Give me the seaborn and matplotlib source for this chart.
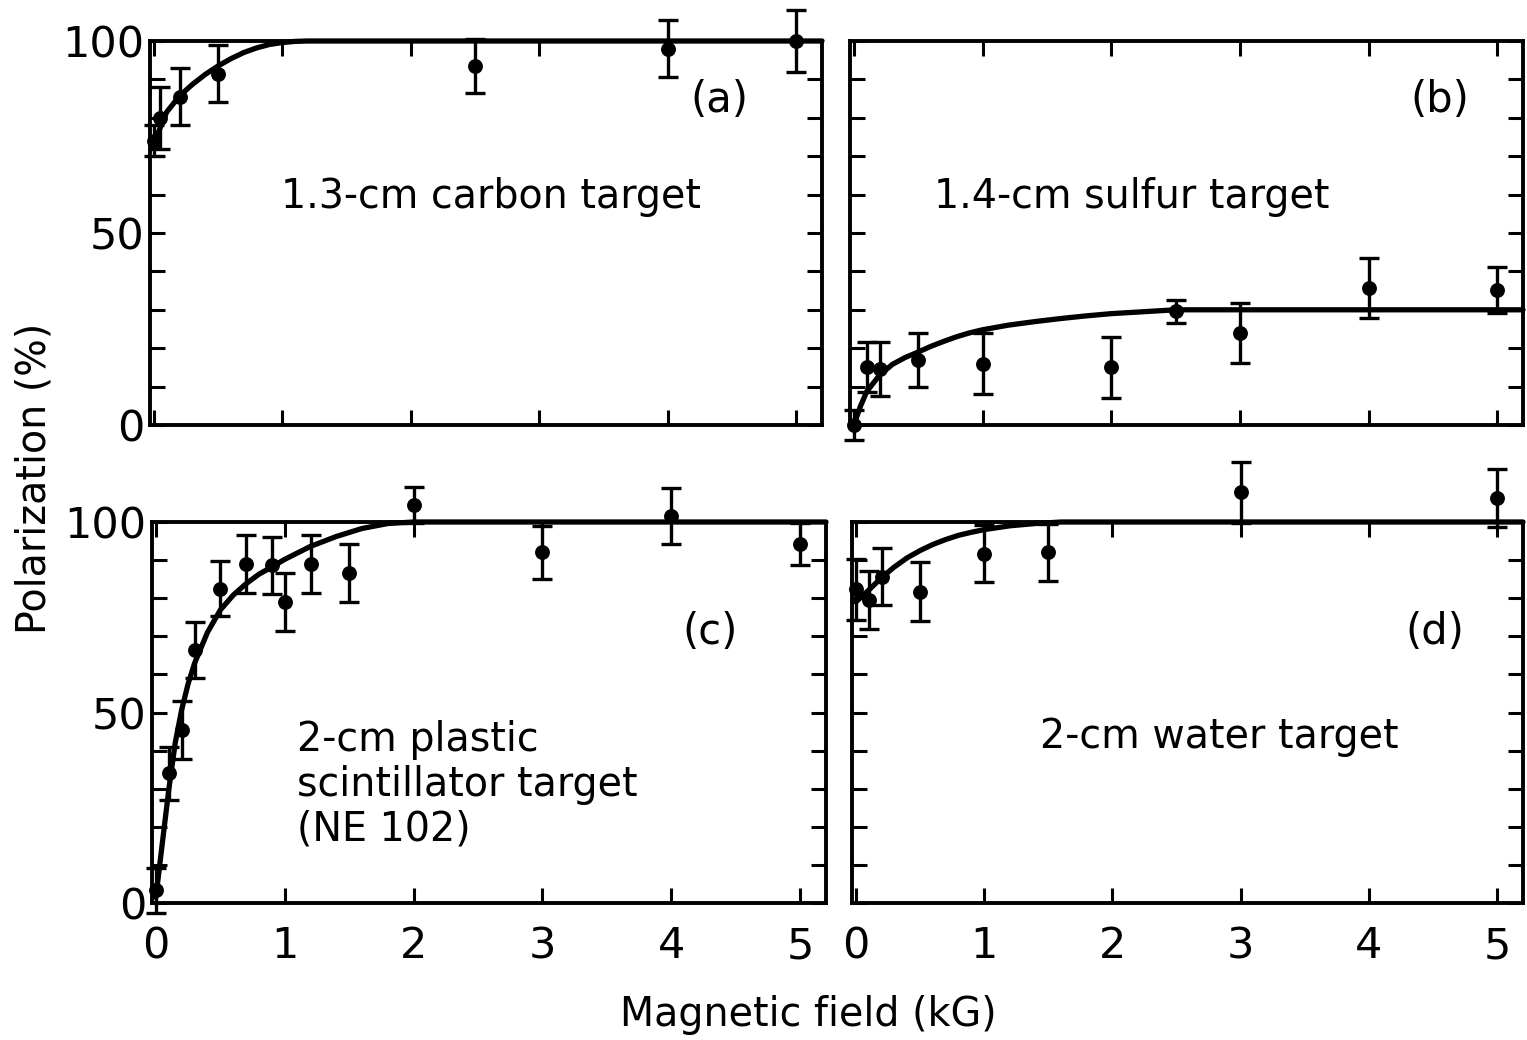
import numpy as np
import pandas as pd
import matplotlib
matplotlib.use("Agg")
import matplotlib.pyplot as plt
import seaborn as sns
from matplotlib.ticker import MultipleLocator

# ---------------- data ----------------
# (a) 1.3-cm carbon target
a_x = [0.0, 0.05, 0.2, 0.5, 2.5, 4.0, 5.0]
a_y = [74, 80, 85.5, 91.5, 93.5, 98, 100]
a_err = [4, 8, 7.5, 7.5, 7, 7.5, 8]
a_curve_x = [0.0, 0.05, 0.1, 0.2, 0.3, 0.4, 0.5, 0.6, 0.7, 0.8, 0.9, 1.0, 1.1, 1.2, 5.2]
a_curve_y = [73, 77.5, 81.5, 85.7, 88.7, 91.3, 93.5, 95.4, 97, 98.2, 99.1, 99.6, 99.9, 100, 100]

# (b) 1.4-cm sulfur target
b_x = [0.0, 0.1, 0.2, 0.5, 1.0, 2.0, 2.5, 3.0, 4.0, 5.0]
b_y = [0, 15.2, 14.5, 17, 16, 15, 29.6, 24, 35.7, 35.2]
b_err = [4, 6.5, 7, 7, 8, 8, 3, 7.8, 7.8, 6]
b_curve_x = [0.0, 0.05, 0.1, 0.2, 0.3, 0.4, 0.5, 0.6, 0.7, 0.8, 0.9, 1.0, 1.2, 1.4,
             1.6, 1.8, 2.0, 2.2, 2.4, 2.5, 5.2]
b_curve_y = [0, 4.8, 8.7, 13, 15.8, 17.6, 19, 20.5, 21.8, 23, 24, 24.8, 26, 26.9,
             27.7, 28.4, 29, 29.4, 29.8, 30, 30]

# (c) 2-cm plastic scintillator target (NE 102)
c_x = [0.0, 0.1, 0.2, 0.3, 0.5, 0.7, 0.9, 1.0, 1.2, 1.5, 2.0, 3.0, 4.0, 5.0]
c_y = [3.3, 34, 45.4, 66.4, 82.5, 89, 88.6, 79, 89, 86.6, 104.5, 92, 101.5, 94.3]
c_err = [6, 7, 7.5, 7.4, 7.3, 7.7, 7.5, 7.5, 7.7, 7.6, 4.8, 7, 7.4, 5.5]
c_curve_x = [0.0, 0.05, 0.1, 0.15, 0.2, 0.25, 0.3, 0.4, 0.5, 0.6, 0.7, 0.8, 0.9, 1.0,
             1.2, 1.4, 1.6, 1.8, 2.0, 5.2]
c_curve_y = [1.5, 15.7, 29.7, 42, 50.7, 57.5, 62.9, 71, 76.9, 80.8, 83.8, 86.3, 88.2, 90.2,
             93.6, 96.2, 98.3, 99.6, 100, 100]

# (d) 2-cm water target
d_x = [0.0, 0.1, 0.2, 0.5, 1.0, 1.5, 3.0, 5.0]
d_y = [82.3, 79.5, 85.6, 81.7, 91.7, 92.1, 107.8, 106.2]
d_err = [8, 7.6, 7.5, 7.7, 7.5, 7.5, 8, 7.6]
d_curve_x = [0.0, 0.1, 0.2, 0.3, 0.4, 0.5, 0.6, 0.7, 0.8, 0.9, 1.0, 1.2, 1.4, 1.6, 5.2]
d_curve_y = [79, 82.1, 85.4, 88.2, 90.6, 92.5, 94.1, 95.4, 96.5, 97.3, 98, 99.0, 99.6, 100, 100]

panel_tags = ["(a)", "(b)", "(c)", "(d)"]
panel_texts = ["1.3-cm carbon target", "1.4-cm sulfur target",
               "2-cm plastic\nscintillator target\n(NE 102)", "2-cm water target"]
x_ticks = [0, 1, 2, 3, 4, 5]
y_ticks = [0, 50, 100]
x_label = "Magnetic field (kG)"
y_label = "Polarization (%)"

# ---------------- figure ----------------
sns.set_style("ticks")
plt.rcParams['font.family'] = ['DejaVu Sans']
plt.rcParams.update({'text.color': 'black', 'axes.edgecolor': 'black',
                     'xtick.color': 'black', 'ytick.color': 'black',
                     'axes.labelcolor': 'black'})

W, H = 1527, 1040
fig = plt.figure(figsize=(W / 100, H / 100), dpi=100)

def frac(l, t, r, b):
    return [l / W, 1 - b / H, (r - l) / W, (b - t) / H]

rects = [frac(150, 41, 822, 425), frac(850, 41, 1523, 425),
         frac(152, 522, 826, 903), frac(852, 522, 1523, 903)]

datasets = [(a_x, a_y, a_err, a_curve_x, a_curve_y),
            (b_x, b_y, b_err, b_curve_x, b_curve_y),
            (c_x, c_y, c_err, c_curve_x, c_curve_y),
            (d_x, d_y, d_err, d_curve_x, d_curve_y)]

tag_pos = [(0.848, 0.846), (0.877, 0.846), (0.828, 0.711), (0.869, 0.711)]
text_pos = [(0.507, 0.594, 'center'), (0.418, 0.594, 'center'),
            (0.215, 0.31, 'left'), (0.548, 0.436, 'center')]

for i, (rect, (px, py, pe, cx, cy)) in enumerate(zip(rects, datasets)):
    ax = fig.add_axes(rect)
    curve = pd.DataFrame({"x": cx, "y": cy})
    pts = pd.DataFrame({"x": px, "y": py, "e": pe})
    sns.lineplot(data=curve, x="x", y="y", ax=ax, color="black", lw=3.8,
                 estimator=None, sort=False, clip_on=False, zorder=3)
    ax.errorbar(pts["x"], pts["y"], yerr=pts["e"], fmt='none', ecolor='black',
                elinewidth=2.4, capsize=7, capthick=2.4, clip_on=False, zorder=4)
    sns.scatterplot(data=pts, x="x", y="y", ax=ax, color="black", s=115,
                    edgecolor="black", linewidth=0, clip_on=False, zorder=5)
    ax.set_xlim(-0.03, 5.2)
    ax.set_ylim(0, 100)
    ax.set_xlabel("")
    ax.set_ylabel("")
    ax.set_xticks(x_ticks)
    ax.set_yticks(y_ticks)
    ax.yaxis.set_minor_locator(MultipleLocator(10))
    ax.tick_params(which='both', direction='in', top=True, right=True,
                   length=11, width=2.2, labelsize=31, pad=4)
    ax.tick_params(axis='x', pad=16)
    for sp in ax.spines.values():
        sp.set_linewidth(2.8)
        sp.set_visible(True)
        sp.set_color('black')
    if i < 2:
        ax.set_xticklabels([])
    if i % 2 == 1:
        ax.set_yticklabels([])
    ax.set_facecolor('white')
    tx, ty = tag_pos[i]
    ax.text(tx, ty, panel_tags[i], transform=ax.transAxes, fontsize=30,
            ha='center', va='center', color='black')
    px_, py_, ha = text_pos[i]
    ax.text(px_, py_, panel_texts[i], transform=ax.transAxes, fontsize=28.5,
            ha=ha, va='center', linespacing=1.15, color='black')

fig.text(35 / W, 1 - 478 / H, y_label, rotation=90, fontsize=28.5,
         ha='center', va='center', color='black')
fig.text(808 / W, 1 - 1015 / H, x_label, fontsize=28.5, ha='center', va='center',
         color='black')

fig.savefig("out.png", dpi=100, facecolor='white')
